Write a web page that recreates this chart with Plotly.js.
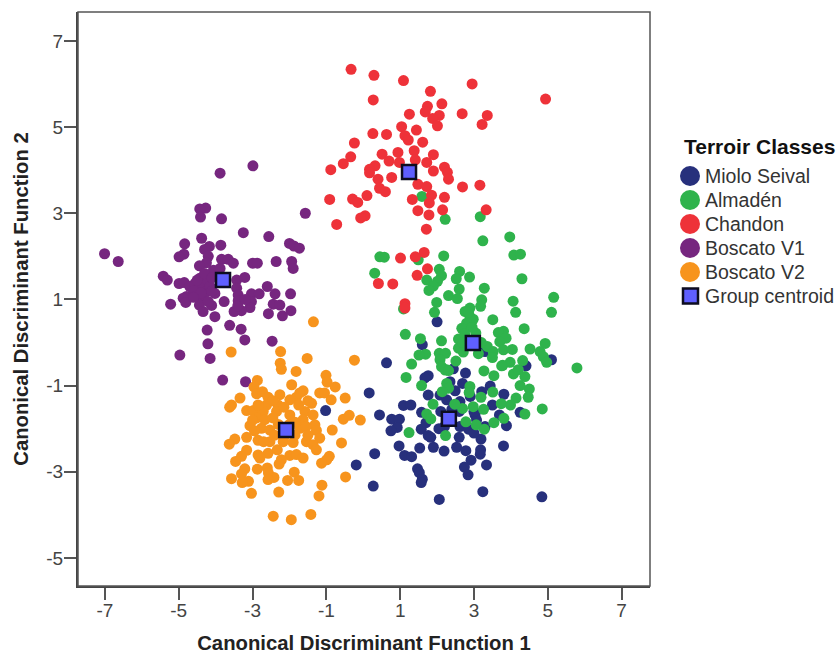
<!DOCTYPE html>
<html><head><meta charset="utf-8">
<script src="https://cdn.plot.ly/plotly-3.0.1.min.js"></script>
<style>html,body{margin:0;padding:0;background:#fff}</style></head>
<body><div id="chart" style="width:838px;height:654px"></div>
<script>
const tickValues = [-7,-5,-3,-1,1,3,5,7];
const yTickValues = [-5,-3,-1,1,3,5,7];
const names = ["Miolo Seival","Almadén","Chandon","Boscato V1","Boscato V2","Group centroid"];
const miolo = [[0.63,-0.47],[1.76,-0.77],[1.67,-0.82],[2.77,-0.71],[2.69,-0.95],[3.44,-1.01],[2.35,-0.91],[0.16,-1.17],[1.76,-1.22],[2.08,-1.22],[2.49,-1.12],[2.26,-1.33],[3.21,-1.14],[3.81,-1.20],[1.09,-1.46],[1.29,-1.45],[2.62,-1.37],[1.58,-1.62],[0.44,-1.68],[0.77,-1.78],[0.98,-1.78],[0.92,-1.97],[0.75,-2.05],[1.57,-2.01],[1.70,-1.86],[1.76,-2.16],[1.83,-2.20],[3.03,-1.68],[3.07,-1.80],[3.69,-1.68],[4.25,-1.62],[3.88,-1.93],[2.62,-1.95],[2.85,-2.01],[3.19,-2.24],[0.97,-2.40],[1.53,-2.45],[1.90,-2.43],[2.19,-2.52],[2.53,-2.43],[2.78,-2.51],[3.18,-2.49],[3.80,-2.40],[0.31,-2.58],[1.12,-2.62],[1.31,-2.65],[3.17,-2.59],[2.92,-2.73],[2.74,-2.89],[3.34,-2.84],[-0.19,-2.84],[1.47,-2.93],[1.52,-3.02],[2.84,-3.07],[1.60,-3.17],[1.57,-3.25],[0.27,-3.33],[3.24,-3.46],[2.06,-3.64],[4.84,-3.58],[5.10,-0.40],[4.41,-0.54],[2.0,0.48],[1.60,-0.05],[3.30,-0.21],[2.44,-0.61],[-1.02,-1.58],[2.4,-1.55],[2.1,-1.6],[2.6,-1.6],[3.3,-1.95],[2.2,-1.95],[3.0,-2.1],[2.6,-2.2],[2.05,-2.0],[3.5,-1.45],[2.9,-1.25],[3.0,-1.6]];
const almaden = [[2.22,2.86],[3.17,2.92],[3.24,2.36],[3.97,2.45],[4.08,2.03],[4.26,2.05],[1.59,3.39],[0.45,1.99],[0.57,1.98],[1.49,1.92],[2.18,2.01],[0.31,1.61],[2.06,1.70],[2.12,1.55],[2.61,1.65],[2.52,1.48],[2.88,1.52],[4.30,1.48],[1.72,1.45],[2.01,1.42],[1.90,1.31],[1.78,1.21],[2.60,1.24],[3.28,1.26],[2.31,1.09],[2.55,1.02],[5.16,1.05],[3.21,0.99],[4.06,0.96],[1.99,0.93],[3.18,0.84],[2.89,0.80],[2.76,0.72],[4.13,0.70],[5.10,0.70],[1.09,0.78],[1.93,0.70],[2.89,0.60],[2.98,0.54],[3.51,0.53],[2.80,0.45],[2.67,0.33],[4.36,0.32],[3.05,0.22],[3.80,0.26],[3.66,0.23],[1.14,0.19],[1.55,0.09],[2.12,0.04],[2.58,0.08],[3.87,0.10],[3.70,0.02],[4.93,-0.02],[2.58,-0.13],[2.71,-0.22],[3.12,-0.26],[3.36,-0.09],[3.52,-0.21],[3.50,-0.35],[3.80,-0.17],[4.04,-0.16],[4.52,-0.15],[4.79,-0.21],[4.88,-0.33],[4.97,-0.46],[5.79,-0.59],[2.06,-0.25],[2.23,-0.25],[1.69,-0.27],[1.51,-0.29],[2.08,-0.40],[2.51,-0.43],[1.31,-0.50],[2.12,-0.56],[2.26,-0.63],[3.27,-0.66],[3.78,-0.53],[3.98,-0.46],[4.32,-0.42],[4.07,-0.73],[3.54,-0.77],[1.16,-0.81],[4.20,-0.63],[4.38,-0.79],[1.58,-1.0],[4.25,-1.0],[4.50,-1.08],[4.47,-1.27],[4.14,-1.29],[3.99,-1.45],[3.74,-1.42],[4.85,-1.54],[4.38,-1.66],[3.81,-1.76],[3.54,-1.86],[3.51,-1.15],[3.19,-1.27],[3.26,-1.55],[2.98,-1.49],[2.69,-1.53],[2.48,-1.43],[2.89,-1.02],[2.87,-1.16],[2.26,-0.95],[2.31,-1.06],[2.14,-1.14],[1.89,-1.43],[1.72,-1.66],[1.83,-1.77],[2.78,-1.84],[3.06,-1.91],[3.28,-2.01],[1.24,-2.09],[2.23,-2.16],[3.75,-0.54],[2.22,-0.64],[2.31,-0.65],[2.85,0.7],[2.95,0.35],[2.75,0.2],[3.2,0.0],[2.7,0.0]];
const chandon = [[-0.33,6.34],[0.29,6.20],[1.09,6.08],[2.95,6.0],[4.94,5.65],[1.82,5.83],[0.27,5.63],[2.13,5.54],[1.74,5.48],[1.68,5.35],[1.25,5.30],[2.06,5.27],[1.88,5.20],[2.68,5.31],[3.36,5.27],[3.22,5.06],[2.01,5.03],[1.04,5.01],[1.44,4.93],[0.26,4.85],[0.63,4.83],[1.13,4.80],[1.22,4.70],[1.61,4.65],[-0.24,4.63],[0.94,4.41],[1.38,4.45],[0.51,4.37],[-0.34,4.31],[-0.54,4.15],[1.90,4.36],[0.70,4.21],[0.98,4.18],[1.41,4.24],[1.72,4.18],[-0.88,4.01],[0.32,4.10],[0.17,4.02],[0.17,3.94],[2.20,4.07],[2.28,3.95],[1.90,3.98],[2.31,3.79],[0.77,3.83],[0.40,3.79],[1.48,3.67],[1.72,3.62],[0.44,3.58],[0.60,3.50],[2.69,3.61],[3.16,3.65],[0.10,3.41],[1.85,3.42],[2.20,3.37],[-0.29,3.33],[-0.15,3.25],[-0.91,3.32],[1.33,3.32],[1.79,3.24],[2.15,3.08],[1.48,3.06],[1.78,2.96],[3.33,3.08],[0.05,2.94],[-0.07,2.89],[-0.72,2.74],[1.71,2.63],[1.65,2.09],[1.41,1.99],[1.01,1.96],[1.74,1.71],[1.46,1.56],[0.41,1.37],[0.80,1.36],[1.13,0.90],[1.13,0.80]];
const boscatoV1 = [[-2.99,4.10],[-3.88,3.93],[-4.27,3.12],[-4.43,3.10],[-4.41,2.91],[-3.84,2.87],[-1.57,3.00],[-3.25,2.55],[-2.56,2.46],[-4.38,2.42],[-4.84,2.29],[-3.86,2.26],[-4.17,2.23],[-4.30,2.16],[-2.0,2.30],[-1.88,2.24],[-1.73,2.19],[-4.86,2.05],[-4.99,1.99],[-7.01,2.06],[-6.64,1.88],[-4.2,2.0],[-4.25,1.85],[-4.44,1.78],[-3.84,1.93],[-3.66,1.93],[-3.52,1.84],[-3.0,1.84],[-2.87,1.84],[-2.36,1.88],[-1.94,1.88],[-1.90,1.72],[-5.42,1.54],[-5.31,1.45],[-4.99,1.37],[-4.85,1.39],[-4.70,1.30],[-4.56,1.37],[-4.43,1.49],[-4.25,1.57],[-4.06,1.68],[-3.88,1.72],[-4.25,1.37],[-4.43,1.26],[-4.25,1.18],[-4.56,1.14],[-4.79,1.07],[-4.88,1.03],[-4.38,1.07],[-4.02,1.14],[-4.15,1.30],[-3.43,1.45],[-3.21,1.51],[-3.43,1.26],[-3.39,1.10],[-3.39,0.97],[-3.03,1.13],[-2.82,1.13],[-2.6,1.30],[-2.39,1.13],[-1.97,1.13],[-3.03,0.95],[-2.44,0.89],[-2.26,0.87],[-3.07,0.81],[-3.30,0.74],[-3.50,0.72],[-2.57,0.67],[-2.19,0.62],[-1.96,0.74],[-3.77,0.95],[-5.22,0.89],[-4.81,0.93],[-4.44,0.87],[-4.11,0.86],[-4.34,0.72],[-4.02,0.60],[-4.23,0.29],[-3.62,0.40],[-3.31,0.31],[-3.21,0.06],[-2.47,0.03],[-4.21,-0.03],[-4.97,-0.29],[-4.15,-0.37],[-3.81,-0.87],[-3.19,-0.91],[-4.6,1.2],[-4.4,1.15],[-4.1,1.2],[-4.5,1.45],[-4.3,1.6],[-4.1,1.5],[-4.6,1.05],[-4.2,0.95],[-3.4,0.85],[-3.2,1.0]];
const boscatoV2 = [[-1.35,0.48],[-3.58,-0.22],[-2.24,-0.21],[-1.52,-0.37],[-0.24,-0.41],[-2.25,-0.48],[-2.22,-0.62],[-1.82,-0.67],[-1.01,-0.76],[-0.98,-0.92],[-0.76,-1.03],[-2.87,-0.88],[-2.96,-1.03],[-2.89,-1.19],[-2.73,-1.14],[-1.94,-0.98],[-1.63,-1.12],[-1.18,-1.17],[-1.05,-1.17],[-0.87,-1.33],[-0.49,-1.29],[-3.34,-1.29],[-3.57,-1.45],[-3.62,-1.50],[-2.58,-1.27],[-2.26,-1.21],[-1.81,-1.27],[-1.72,-1.17],[-1.99,-1.33],[-1.40,-1.41],[-2.62,-1.45],[-2.31,-1.45],[-3.16,-1.58],[-2.98,-1.58],[-2.71,-1.60],[-2.35,-1.60],[-1.99,-1.68],[-1.58,-1.60],[-1.36,-1.68],[-2.89,-1.75],[-2.67,-1.79],[-1.63,-1.79],[-3.07,-1.93],[-2.76,-1.99],[-2.53,-2.03],[-1.72,-1.99],[-1.31,-1.91],[-1.27,-2.04],[-0.54,-1.78],[-0.38,-1.69],[-0.08,-1.80],[-0.84,-2.03],[-1.18,-2.22],[-3.16,-2.20],[-3.48,-2.24],[-3.63,-2.36],[-2.85,-2.27],[-2.53,-2.30],[-2.17,-2.30],[-1.90,-2.32],[-1.54,-2.30],[-1.36,-2.37],[-1.27,-2.49],[-0.59,-2.33],[-3.16,-2.50],[-3.30,-2.64],[-3.46,-2.76],[-2.85,-2.61],[-2.58,-2.57],[-2.33,-2.49],[-2.80,-2.68],[-1.99,-2.62],[-1.81,-2.60],[-1.63,-2.68],[-2.22,-2.72],[-2.28,-2.82],[-0.92,-2.64],[-0.99,-2.72],[-1.13,-2.80],[-2.87,-2.94],[-2.60,-2.91],[-3.21,-2.93],[-3.30,-3.05],[-3.57,-3.16],[-1.87,-3.01],[-2.57,-3.03],[-2.42,-3.13],[-2.58,-3.18],[-2.05,-3.20],[-1.75,-3.20],[-3.11,-3.22],[-3.28,-3.25],[-0.48,-3.12],[-1.12,-3.31],[-1.20,-3.56],[-3.03,-3.50],[-2.29,-3.47],[-2.44,-4.03],[-1.95,-4.11],[-1.42,-3.99],[-2.3,-1.9],[-2.0,-1.9],[-1.85,-1.85],[-2.4,-2.15],[-2.15,-2.2],[-1.85,-2.15],[-1.55,-1.95],[-1.5,-2.15],[-2.7,-2.3],[-2.95,-2.05],[-2.45,-1.75],[-2.15,-1.5],[-1.75,-1.45],[-1.5,-1.35],[-2.45,-1.35],[-2.85,-1.45],[-3.0,-1.8]];
const centroids = [[2.32,-1.77],[2.97,-0.01],[1.24,3.96],[-3.80,1.45],[-2.09,-2.03]];
const groups = [miolo, almaden, chandon, boscatoV1, boscatoV2];
const colors = ["#27307c","#2fb34c","#ee3239","#76267f","#f7941d"];

const font = "Liberation Sans, Arial, sans-serif";
const traces = groups.map((g,i)=>({
  type:"scatter", mode:"markers", name:names[i],
  x:g.map(p=>p[0]), y:g.map(p=>p[1]),
  marker:{color:colors[i], size:11, line:{width:0}}
}));
traces.push({
  type:"scatter", mode:"markers", name:names[5],
  x:centroids.map(p=>p[0]), y:centroids.map(p=>p[1]),
  marker:{symbol:"square", color:"#5f5fff", size:14, line:{color:"#0d0d20", width:2.5}}
});
const axisBase = {
  showgrid:false, zeroline:false, showline:true, linecolor:"#444", linewidth:2, mirror:false,
  ticks:"outside", ticklen:12, tickwidth:2, tickcolor:"#555", tickmode:"array",
  tickfont:{family:font,size:19,color:"#444"}
};
const plotL=78, plotR=650, plotT=12, plotB=586;
const px = v => (v-plotL)/(plotR-plotL);
const py = v => (plotB-v)/(plotB-plotT);
const legendRows = [176,200,224,248,272,296];
const legendShapes = legendRows.slice(0,5).map((r,i)=>({type:"circle",xref:"paper",yref:"paper",
  x0:px(680),x1:px(700),y0:py(r+10),y1:py(r-10),fillcolor:colors[i],line:{width:0}}));
legendShapes.push({type:"rect",xref:"paper",yref:"paper",x0:px(683),x1:px(698),y0:py(legendRows[5]+7.5),y1:py(legendRows[5]-7.5),
  fillcolor:"#5f5fff",line:{color:"#0d0d20",width:2.5}});
const legendText = names.map((n,i)=>({xref:"paper",yref:"paper",x:px(704),y:py(legendRows[i]),xanchor:"left",yanchor:"middle",
  text:n,showarrow:false,borderpad:0,font:{family:font,size:19.5,color:"#333"}}));
legendText.push({xref:"paper",yref:"paper",x:px(683),y:py(147),xanchor:"left",yanchor:"middle",
  text:"<b>Terroir Classes</b>",showarrow:false,borderpad:0,font:{family:font,size:21,color:"#111"}});
const layout = {
  width:838, height:654,
  margin:{l:plotL,r:838-plotR,t:plotT,b:654-plotB,autoexpand:false},
  paper_bgcolor:"#fff", plot_bgcolor:"#fff",
  showlegend:false,
  xaxis:Object.assign({},axisBase,{range:[-7.73,7.77],tickvals:tickValues,ticktext:tickValues.map(String),ticklabelstandoff:-6,
    title:{text:"<b>Canonical Discriminant Function 1</b>",font:{family:font,size:20.3,color:"#222"},standoff:17}}),
  yaxis:Object.assign({},axisBase,{range:[-5.65,7.67],tickvals:yTickValues,ticktext:yTickValues.map(String),ticklabelstandoff:-3,
    title:{text:"<b>Canonical Discriminant Function 2</b>",font:{family:font,size:20.3,color:"#222"},standoff:12}}),
  annotations:legendText,
  shapes:[{type:"rect",xref:"paper",yref:"paper",x0:0,x1:1,y0:0,y1:1,line:{color:"#555",width:1.5},fillcolor:"rgba(0,0,0,0)",layer:"above"}].concat(legendShapes)
};
Plotly.newPlot("chart",traces,layout,{displayModeBar:false,responsive:false});
</script></body></html>
